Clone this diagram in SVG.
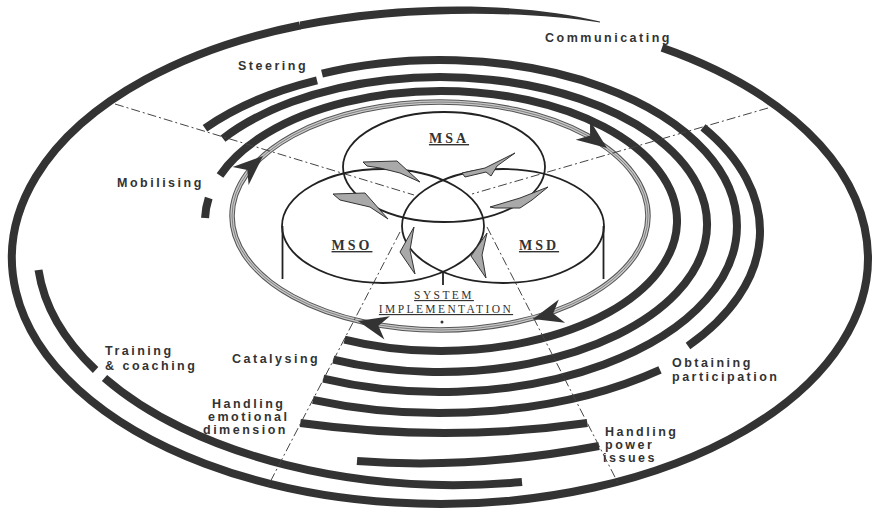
<svg xmlns="http://www.w3.org/2000/svg" width="873" height="513" viewBox="0 0 873 513">
  <style>
    .bar{fill:none;stroke:#333;stroke-width:8;stroke-linecap:butt}
    .venn{fill:none;stroke:#222;stroke-width:1.8}
    .cue{fill:#a9a9a9;stroke:#333;stroke-width:1;stroke-linejoin:round}
    .axis{fill:none;stroke:#444;stroke-width:1;stroke-dasharray:9 3 2 3}
    .lbl{font-family:"Liberation Sans",Arial,sans-serif;font-weight:bold;font-size:12.5px;letter-spacing:2.5px;fill:#333}
    .core{font-family:"Liberation Serif","Times New Roman",serif;fill:#333;text-decoration:underline}
    .head{fill:#333}
  </style>
  <rect width="873" height="513" fill="#fff"/>

  <!-- spiral of activity bars, outermost first -->
  <g id="spiral">
    <path class="bar" d="M662,47.7 A428,246 0 1 1 300,25.5"/>
    <path fill="#333" d="M300,21.5 C400,1.6 520,1.5 600,21.5 L600,22.5 C520,10 400,9.6 300,29.5 Z"/>
    <path class="bar" d="M38.5,270 A418,235 0 0 0 95.6,370"/>
    <path class="bar" d="M104.5,378 A418,235 0 0 0 522,482"/>
    <path class="bar" d="M357,461 Q470,470 599,446"/>
    <path class="bar" d="M300.3,423 Q445,443 587.3,423"/>
    <path class="bar" d="M703,127.3 A320,182 0 0 1 688,346"/>
    <path class="bar" d="M660,369.8 A340,182 0 0 1 312.9,399.8"/>
    <path class="bar" d="M205,128.2 A297,160 0 0 1 317,80.4"/>
    <path class="bar" d="M322,73.7 A297,166 0 1 1 323.3,378.7"/>
    <path class="bar" d="M223,138.6 A267,147.5 0 1 1 333.3,359.7"/>
    <path class="bar" d="M220,175.4 A236,130 0 1 1 344.5,339.6"/>
    <path class="bar" d="M205.06,218 A236,130 0 0 1 208.72,198"/>
  </g>

  <!-- inner implementation loop with direction heads -->
  <g id="implementation-loop">
    <ellipse cx="440" cy="216" rx="208" ry="114" fill="none" stroke="#555" stroke-width="5.5"/>
    <ellipse cx="440" cy="216" rx="208" ry="114" fill="none" stroke="#c8c8c8" stroke-width="3.4"/>
    <ellipse cx="440" cy="216" rx="208" ry="114" fill="none" stroke="#777" stroke-width="0.9"/>
    <polygon class="head" points="263,156 248.6,184.9 247.3,169.9 232.6,167"/>
    <polygon class="head" points="607,148 575.7,139.8 590.1,135.5 590,120.5"/>
    <polygon class="head" points="533,319 558.8,299.5 553.2,313.5 565.1,322.7"/>
    <polygon class="head" points="358,321 389.9,316.2 378.4,325.8 384.4,339.6"/>
  </g>

  <!-- sector axes -->
  <g id="axes">
    <line class="axis" x1="115" y1="104" x2="414" y2="195"/>
    <line class="axis" x1="768" y1="108" x2="472" y2="194"/>
    <line class="axis" x1="400" y1="232" x2="267" y2="488"/>
    <line class="axis" x1="487" y1="227" x2="618" y2="483"/>
  </g>

  <!-- three management subsystems -->
  <g id="msa">
    <ellipse class="venn" cx="444" cy="167" rx="101" ry="55"/>
    <text class="core" x="449" y="143" font-size="14" font-weight="bold" letter-spacing="3" text-anchor="middle">MSA</text>
  </g>
  <g id="mso">
    <ellipse class="venn" cx="383" cy="226" rx="101" ry="57"/>
    <line class="venn" x1="282.5" y1="226" x2="282.5" y2="279"/>
    <text class="core" x="352" y="250" font-size="14" font-weight="bold" letter-spacing="3" text-anchor="middle">MSO</text>
  </g>
  <g id="msd">
    <ellipse class="venn" cx="503" cy="226" rx="101" ry="57"/>
    <line class="venn" x1="603.5" y1="226" x2="603.5" y2="279"/>
    <text class="core" x="539" y="250" font-size="14" font-weight="bold" letter-spacing="3" text-anchor="middle">MSD</text>
  </g>

  <!-- circulation cues between subsystems -->
  <g id="cues">
    <polygon class="cue" points="363,162 397,161 420,182 400,173 380,168 367,166"/>
    <polygon class="cue" points="462,173 485,168 515,153 497,166 491,176 486,172 465,177"/>
    <polygon class="cue" points="333,194 365,193 388,219 370,207 340,200"/>
    <polygon class="cue" points="490,207 520,198 548,187 532,200 520,208 495,208"/>
    <polygon class="cue" points="414,227 400,252 415,274 410,250"/>
    <polygon class="cue" points="487,233 471,256 486,278 482,255"/>
  </g>

  <g id="system-implementation">
    <line class="venn" x1="443" y1="272" x2="443" y2="285"/>
    <text class="core" x="444" y="299" font-size="11.5" letter-spacing="2.4" text-anchor="middle">SYSTEM</text>
    <text class="core" x="446" y="313" font-size="11.5" letter-spacing="2.4" text-anchor="middle">IMPLEMENTATION</text>
    <circle cx="442" cy="322" r="1.5" fill="#333"/>
  </g>

  <!-- activity labels -->
  <g id="labels">
    <text class="lbl" x="545" y="42">Communicating</text>
    <text class="lbl" x="238" y="70">Steering</text>
    <text class="lbl" x="117" y="187">Mobilising</text>
    <text class="lbl" x="105" y="355">Training</text>
    <text class="lbl" x="105" y="370">&amp; coaching</text>
    <text class="lbl" x="232" y="363">Catalysing</text>
    <text class="lbl" x="212" y="408">Handling</text>
    <text class="lbl" x="208" y="421">emotional</text>
    <text class="lbl" x="203" y="434">dimension</text>
    <text class="lbl" x="672" y="367">Obtaining</text>
    <text class="lbl" x="672" y="381">participation</text>
    <text class="lbl" x="605" y="436">Handling</text>
    <text class="lbl" x="605" y="449">power</text>
    <text class="lbl" x="603" y="462">issues</text>
  </g>
</svg>
